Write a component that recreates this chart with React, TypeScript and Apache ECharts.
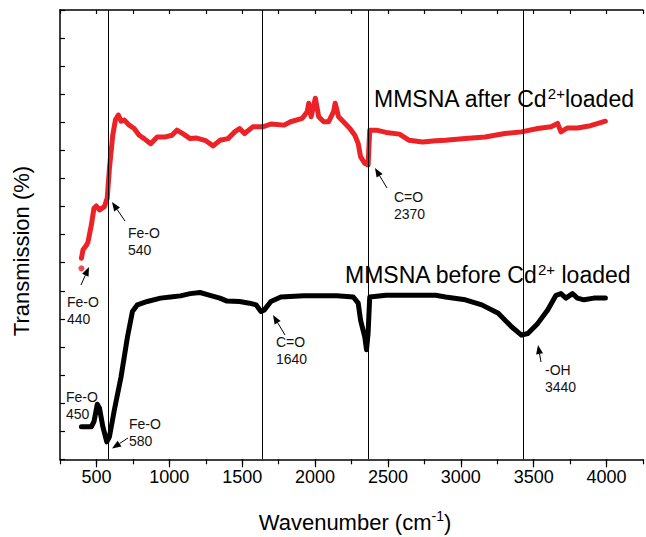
import React, { useEffect, useRef } from "react";
import * as echarts from "echarts";

// MMSNA after Cd2+ loaded (red)
const afterWn = [397,408,431,442,465,483,499,521,555,574,589,612,630,650,669,691,725,759,793,827,872,917,974,1018,1052,1098,1143,1188,1245,1301,1347,1403,1449,1482,1516,1573,1641,1697,1788,1832,1912,1946,1957,1973,2002,2025,2059,2093,2127,2138,2161,2195,2239,2273,2296,2312,2341,2364,2375,2421,2488,2579,2646,2737,2828,2895,3031,3167,3302,3416,3528,3619,3664,3687,3732,3800,3890,3992];
const afterT = [35.8,37.3,38.1,38.7,41.7,44.7,45.1,44.4,45.0,46.5,51.8,57.7,60.4,61.3,60.2,60.4,59.5,58.9,57.7,57.1,56.2,57.4,57.4,57.7,58.6,57.9,57.1,57.2,56.8,55.8,56.8,57.1,58.3,58.9,58.0,59.2,59.2,59.7,59.5,60.1,60.7,61.9,63.4,61.0,64.3,61.0,60.1,60.1,61.9,63.4,61.0,60.1,58.9,57.7,56.2,53.9,52.7,52.4,58.6,58.6,58.2,57.9,56.8,56.5,56.7,56.8,57.1,57.4,58.0,58.3,58.9,59.2,59.8,58.3,59.0,59.0,59.4,60.2];
const afterDotWn = [397];
const afterDotT = [34.0];

// MMSNA before Cd2+ loaded (black)
const beforeWn = [397,465,483,506,521,544,571,589,623,669,713,747,781,849,940,1008,1076,1143,1211,1279,1347,1392,1482,1550,1595,1629,1652,1697,1765,1923,2149,2262,2296,2312,2341,2353,2364,2375,2488,2828,2895,3031,3144,3257,3348,3416,3460,3528,3596,3653,3687,3721,3766,3800,3845,3913,3992];
const beforeT = [5.8,5.8,6.7,9.8,9.1,5.8,3.1,4.0,8.8,14.7,21.8,26.3,27.5,28.1,28.7,28.9,29.1,29.5,29.7,29.2,28.7,28.2,28.1,27.8,27.5,26.3,26.6,28.1,28.9,29.1,29.1,28.9,27.8,24.8,21.8,19.5,22.5,28.9,29.2,29.2,28.9,28.4,27.5,26.0,23.6,22.1,22.4,24.2,26.6,29.2,29.5,28.7,29.5,28.7,28.4,28.7,28.7];

// Vertical reference lines (wavenumber)
const refLines = [578, 1640, 2364, 3426];

// Axis ticks
const majorTicks = [500, 1000, 1500, 2000, 2500, 3000, 3500, 4000];

// Peak annotations
const annoTexts = ["Fe-O\n540", "Fe-O\n440", "Fe-O\n450", "Fe-O\n580", "C=O\n1640", "C=O\n2370", "-OH\n3440"];

const FONT = "'Liberation Sans', Arial, Helvetica, sans-serif";

// layout of annotations (pixels)
const annoLayout = [
  { x: 128, y: 224, arrow: [125, 221, 112, 202] },
  { x: 67, y: 293, arrow: [81, 285, 89, 267] },
  { x: 66, y: 388, arrow: null },
  { x: 129, y: 415, arrow: [128, 438, 112, 448.5] },
  { x: 276, y: 333, arrow: [285, 335, 273, 315] },
  { x: 394, y: 188, arrow: [387, 188, 375, 168] },
  { x: 545, y: 361, arrow: [541, 362, 538, 345] },
];

function arrowElems(a: number[]) {
  const [x1, y1, x2, y2] = a;
  const dx = x2 - x1, dy = y2 - y1;
  const len = Math.sqrt(dx * dx + dy * dy);
  const ux = dx / len, uy = dy / len;
  const hl = 9, hw = 3.5;
  const bx = x2 - ux * hl, by = y2 - uy * hl;
  return [
    { type: "line", shape: { x1, y1, x2: bx, y2: by }, style: { stroke: "#000", lineWidth: 1 } },
    {
      type: "polygon",
      shape: { points: [[x2, y2], [bx - uy * hw, by + ux * hw], [bx + uy * hw, by - ux * hw]] },
      style: { fill: "#000" },
    },
  ];
}

export default function App() {
  const ref = useRef<HTMLDivElement>(null);
  useEffect(() => {
    if (!ref.current) return;
    const chart = echarts.init(ref.current, null, { renderer: "svg" });
    const graphics: any[] = [];
    annoTexts.forEach((t, i) => {
      const L = annoLayout[i];
      graphics.push({
        type: "text",
        x: L.x,
        y: L.y,
        style: { text: t, fontSize: 14, lineHeight: 17, fontFamily: FONT, fill: "#111", align: "left", verticalAlign: "top" },
      });
      if (L.arrow) graphics.push(...arrowElems(L.arrow));
    });
    const rich = {
      m: { fontSize: 23, fontFamily: FONT, fill: "#000", lineHeight: 27 },
      s: { fontSize: 15, fontFamily: FONT, fill: "#000", verticalAlign: "top", lineHeight: 15 },
    };
    const richAx = {
      m: { fontSize: 22, fontFamily: FONT, fill: "#000", lineHeight: 26 },
      s: { fontSize: 14, fontFamily: FONT, fill: "#000", verticalAlign: "top", lineHeight: 14 },
    };
    graphics.push(
      { type: "text", x: 374, y: 99, style: { text: "{m|MMSNA after Cd}{s|2+}{m|loaded}", rich, verticalAlign: "middle", align: "left" } },
      { type: "text", x: 345, y: 275, style: { text: "{m|MMSNA before Cd}{s|2+}{m| loaded}", rich, verticalAlign: "middle", align: "left" } },
      { type: "text", x: 355, y: 522, style: { text: "{m|Wavenumber (cm}{s|-1}{m|)}", rich: richAx, verticalAlign: "middle", align: "center" } },
      {
        type: "text", x: 21, y: 251, rotation: Math.PI / 2,
        style: { text: "Transmission (%)", fontSize: 22, fontFamily: FONT, fill: "#000", align: "center", verticalAlign: "middle" },
      }
    );

    const axisLine = { show: true, lineStyle: { color: "#000", width: 1.5 } };
    chart.setOption({
      animation: false,
      backgroundColor: "#fff",
      grid: { left: 60, top: 10, width: 589.7, height: 449.3, containLabel: false },
      xAxis: [
        {
          type: "value", position: "bottom", min: 250, max: 4250, interval: 250,
          axisLine,
          axisTick: { show: true, inside: false, length: 5, lineStyle: { color: "#000", width: 1.2 } },
          axisLabel: {
            fontSize: 18, color: "#000", fontFamily: FONT, margin: 9,
            formatter: (v: number) => (v % 500 === 0 && v >= 500 && v <= 4000 ? String(v) : ""),
          },
          splitLine: { show: false },
        },
        {
          type: "value", position: "bottom", min: 250, max: 4250,
          axisLine: { show: false },
          axisTick: { show: true, inside: false, length: 8, customValues: majorTicks, lineStyle: { color: "#000", width: 1.2 } },
          axisLabel: { show: false },
          splitLine: { show: false },
        },
        {
          type: "value", position: "top", min: 250, max: 4250, interval: 250,
          axisLine,
          axisTick: { show: true, inside: true, length: 4, lineStyle: { color: "#000", width: 1.2 } },
          axisLabel: { show: false },
          splitLine: { show: false },
        },
      ],
      yAxis: {
        type: "value", min: 0, max: 80, interval: 5,
        axisLine,
        axisTick: { show: true, inside: true, length: 5, lineStyle: { color: "#000", width: 1.2 } },
        axisLabel: { show: false },
        splitLine: { show: false },
      },
      series: [
        {
          type: "line", xAxisIndex: 0,
          data: beforeWn.map((w, i) => [w, beforeT[i]]),
          showSymbol: false,
          lineStyle: { color: "#000", width: 5, join: "round", cap: "round" },
          markLine: {
            silent: true, symbol: "none", label: { show: false },
            lineStyle: { color: "#000", width: 1, type: "solid" },
            data: refLines.map((v) => ({ xAxis: v })),
          },
          z: 3,
        },
        {
          type: "line", xAxisIndex: 0,
          data: afterWn.map((w, i) => [w, afterT[i]]),
          showSymbol: false,
          lineStyle: { color: "#ec2227", width: 5, join: "round", cap: "round" },
          z: 3,
        },
        {
          type: "scatter", xAxisIndex: 0,
          data: afterDotWn.map((w, i) => [w, afterDotT[i]]),
          symbolSize: 6,
          itemStyle: { color: "#ec2227" },
          z: 3,
        },
      ],
      graphic: graphics,
    });
    return () => chart.dispose();
  }, []);
  return <div ref={ref} style={{ position: "fixed", left: 0, top: 0, width: 646, height: 537 }} />;
}
